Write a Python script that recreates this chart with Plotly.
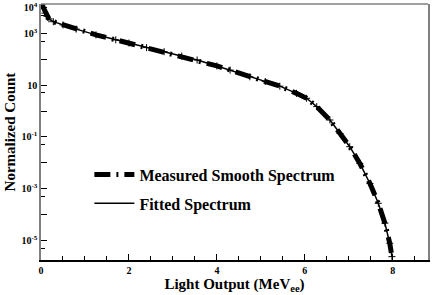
import plotly.graph_objects as go

# Light output (MeVee) and normalized counts
light_output = [0.02, 0.05, 0.09, 0.13, 0.18, 0.28, 0.5, 0.8, 1.25, 1.7, 2.0, 2.4,
                2.8, 3.2, 3.55, 4.0, 4.3, 4.75, 5.1, 5.43, 5.81, 6.04, 6.27, 6.57,
                6.8, 7.02, 7.25, 7.48, 7.67, 7.82, 7.93, 7.98]
measured_counts = [1.26e4, 1.0e4, 6.0e3, 4.6e3, 3.6e3, 2.8e3, 2.1e3, 1.45e3, 870, 560,
                   420, 280, 195, 132, 93, 55, 38, 21, 13.8, 9.1, 4.8, 3.1, 1.48, 0.45,
                   0.135, 0.042, 9.5e-3, 1.6e-3, 2.75e-4, 4.7e-5, 7.9e-6, 2.4e-6]
fitted_counts = [1.26e4, 1.0e4, 6.0e3, 4.6e3, 3.6e3, 2.8e3, 2.1e3, 1.45e3, 870, 560,
                 420, 280, 195, 132, 93, 55, 38, 21, 13.8, 9.1, 4.8, 3.1, 1.48, 0.45,
                 0.135, 0.042, 9.5e-3, 1.6e-3, 2.75e-4, 4.7e-5, 7.9e-6, 2.4e-6]

x_tick_vals = [0, 2, 4, 6, 8]
x_tick_text = ["0", "2", "4", "6", "8"]
y_tick_vals = [1e4, 1e3, 1e2, 1e1, 1e0, 1e-1, 1e-2, 1e-3, 1e-4, 1e-5]
y_tick_text = ["10<sup>4</sup>", "10<sup>3</sup>", " ", "10", " ", "10<sup>-1</sup>", " ",
               "10<sup>-3</sup>", " ", "10<sup>-5</sup>"]
y_minor_vals = [5e3, 5e2, 5e0, 5e-2, 5e-4, 5e-6]

FONT = "Liberation Serif"

fig = go.Figure()
fig.add_trace(go.Scatter(
    x=light_output, y=measured_counts, mode="lines",
    name="Measured Smooth Spectrum",
    line=dict(color="black", width=5, dash="16px,6px,2px,6px"),
    legendgroup="a",
))
fig.add_trace(go.Scatter(
    x=light_output, y=fitted_counts, mode="lines",
    name="Fitted Spectrum",
    line=dict(color="black", width=1.5),
    legendgroup="b",
))
fig.add_trace(go.Scatter(
    x=light_output, y=fitted_counts, mode="markers",
    marker=dict(symbol="cross-thin", size=5, line=dict(color="black", width=1)),
    showlegend=False, hoverinfo="skip",
))

fig.update_layout(
    width=436, height=295,
    margin=dict(l=41, r=8, t=4, b=35),
    paper_bgcolor="white", plot_bgcolor="white",
    font=dict(family=FONT, color="black"),
    showlegend=True,
    legend=dict(
        x=0.125, y=0.40, xanchor="left", yanchor="top",
        bgcolor="rgba(0,0,0,0)", borderwidth=0,
        font=dict(family=FONT, size=16, color="black", weight="bold"),
        traceorder="grouped", tracegroupgap=5,
        itemwidth=40,
    ),
    xaxis=dict(
        range=[0, 8.8], automargin=False,
        tickmode="array", tickvals=x_tick_vals, ticktext=x_tick_text,
        ticks="inside", ticklen=6, tickwidth=1, tickcolor="black",
        minor=dict(dtick=0.5, ticks="inside", ticklen=4, tickcolor="black"),
        showgrid=False, zeroline=False,
        showline=True, linecolor="black", linewidth=1.5, mirror=False,
        tickfont=dict(family=FONT, size=10, color="black", weight="bold"),
        title=dict(text="Light Output (MeV<sub>ee</sub>)",
                   font=dict(family=FONT, size=15, color="black", weight="bold"),
                   standoff=0),
    ),
    yaxis=dict(
        type="log", range=[-5.75, 4.13], automargin=False,
        tickmode="array", tickvals=y_tick_vals, ticktext=y_tick_text,
        ticks="inside", ticklen=6, tickwidth=1, tickcolor="black",
        minor=dict(tickvals=y_minor_vals, ticks="inside", ticklen=4, tickcolor="black"),
        showgrid=False, zeroline=False,
        showline=True, linecolor="#808080", linewidth=1.5, mirror=True,
        tickfont=dict(family=FONT, size=10, color="black", weight="bold"),
        title=dict(text="Normalized Count",
                   font=dict(family=FONT, size=15, color="black", weight="bold"),
                   standoff=2),
    ),
    shapes=[dict(type="line", xref="paper", yref="paper", x0=0, x1=1, y0=1, y1=1,
                 line=dict(color="#808080", width=1.5))],
)

fig.write_html("out.html",
               config={"displayModeBar": False},
               post_script="document.body.style.margin='0';document.body.style.padding='0';")
